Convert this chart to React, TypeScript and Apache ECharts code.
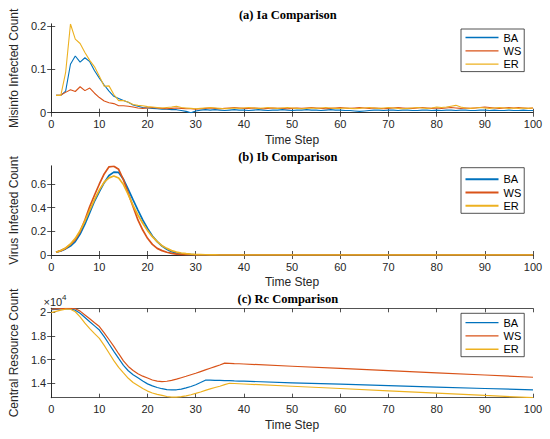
import React, { useEffect, useRef } from "react";
import * as echarts from "echarts";

// ---------- data ----------
const SERIES_NAMES = ["BA", "WS", "ER"];
const COLORS = ["#0072BD", "#D95319", "#EDB120"];

// (a) Ia comparison, time steps 1..100
const STEPS_A = Array.from({ length: 100 }, (_, i) => i + 1);
const BA_A = [
  0.040, 0.040, 0.050, 0.112, 0.131, 0.117, 0.127, 0.118, 0.097, 0.080,
  0.064, 0.050, 0.038, 0.033, 0.028, 0.024, 0.018, 0.015, 0.012, 0.011,
  0.010, 0.009, 0.008, 0.008, 0.007, 0.007, 0.005, 0.003, 0.000, 0.004,
  0.006, 0.007, 0.006, 0.007, 0.006, 0.005, 0.006, 0.007, 0.006, 0.006,
  0.005, 0.006, 0.007, 0.006, 0.005, 0.006, 0.006, 0.007, 0.006, 0.005,
  0.006, 0.006, 0.007, 0.006, 0.006, 0.005, 0.006, 0.007, 0.006, 0.006,
  0.005, 0.005, 0.004, 0.003, 0.004, 0.005, 0.006, 0.006, 0.005, 0.006,
  0.006, 0.005, 0.006, 0.006, 0.005, 0.005, 0.006, 0.006, 0.005, 0.006,
  0.005, 0.006, 0.006, 0.005, 0.006, 0.006, 0.005, 0.005, 0.006, 0.006,
  0.005, 0.006, 0.005, 0.005, 0.006, 0.005, 0.005, 0.006, 0.005, 0.005,
];
const WS_A = [
  0.040, 0.041, 0.047, 0.053, 0.049, 0.060, 0.051, 0.057, 0.045, 0.035,
  0.027, 0.023, 0.021, 0.016, 0.016, 0.015, 0.013, 0.011, 0.010, 0.011,
  0.012, 0.011, 0.010, 0.009, 0.010, 0.011, 0.010, 0.009, 0.009, 0.008,
  0.009, 0.010, 0.011, 0.010, 0.009, 0.010, 0.011, 0.012, 0.011, 0.010,
  0.010, 0.011, 0.010, 0.009, 0.010, 0.011, 0.010, 0.010, 0.009, 0.010,
  0.011, 0.010, 0.011, 0.012, 0.011, 0.010, 0.009, 0.010, 0.011, 0.012,
  0.011, 0.010, 0.011, 0.012, 0.011, 0.010, 0.011, 0.010, 0.009, 0.010,
  0.011, 0.012, 0.011, 0.010, 0.010, 0.011, 0.012, 0.011, 0.010, 0.011,
  0.010, 0.011, 0.012, 0.011, 0.010, 0.011, 0.010, 0.011, 0.012, 0.013,
  0.012, 0.011, 0.010, 0.011, 0.012, 0.011, 0.012, 0.011, 0.010, 0.011,
];
const ER_A = [
  0.040, 0.040, 0.093, 0.205, 0.170, 0.160, 0.139, 0.121, 0.106, 0.084,
  0.061, 0.062, 0.042, 0.028, 0.028, 0.024, 0.019, 0.017, 0.016, 0.014,
  0.013, 0.012, 0.011, 0.012, 0.013, 0.015, 0.012, 0.011, 0.010, 0.009,
  0.010, 0.011, 0.012, 0.011, 0.010, 0.009, 0.010, 0.011, 0.010, 0.011,
  0.012, 0.011, 0.010, 0.011, 0.012, 0.011, 0.010, 0.011, 0.012, 0.011,
  0.010, 0.009, 0.010, 0.011, 0.010, 0.011, 0.012, 0.011, 0.010, 0.010,
  0.011, 0.010, 0.009, 0.010, 0.011, 0.012, 0.011, 0.010, 0.011, 0.012,
  0.011, 0.010, 0.009, 0.010, 0.011, 0.012, 0.011, 0.010, 0.011, 0.013,
  0.012, 0.013, 0.015, 0.017, 0.013, 0.011, 0.010, 0.011, 0.012, 0.011,
  0.010, 0.011, 0.012, 0.011, 0.010, 0.011, 0.010, 0.011, 0.010, 0.011,
];

// (b) Ib comparison, time steps 1..36 then 100
const STEPS_B = [
  1, 2, 3, 4, 5, 6, 7, 8, 9, 10, 11, 12, 13, 14, 15, 16, 17, 18, 19, 20,
  21, 22, 23, 24, 25, 26, 27, 28, 29, 30, 31, 32, 33, 34, 35, 36, 100,
];
const BA_B = [
  0.023, 0.035, 0.052, 0.076, 0.113, 0.177, 0.260, 0.358, 0.456, 0.535,
  0.611, 0.672, 0.700, 0.698, 0.640, 0.555, 0.465, 0.380, 0.296, 0.225,
  0.160, 0.113, 0.076, 0.048, 0.028, 0.017, 0.010, 0.006, 0.004, 0.002,
  0.001, 0.001, 0.000, 0.000, 0.000, 0.000, 0.000,
];
const WS_B = [
  0.023, 0.037, 0.056, 0.090, 0.130, 0.197, 0.296, 0.410, 0.507, 0.600,
  0.685, 0.745, 0.750, 0.724, 0.634, 0.521, 0.408, 0.296, 0.211, 0.141,
  0.090, 0.056, 0.037, 0.023, 0.014, 0.008, 0.005, 0.003, 0.002, 0.001,
  0.001, 0.000, 0.000, 0.000, 0.000, 0.000, 0.000,
];
const ER_B = [
  0.023, 0.038, 0.060, 0.093, 0.140, 0.205, 0.287, 0.380, 0.470, 0.550,
  0.615, 0.652, 0.668, 0.650, 0.595, 0.510, 0.418, 0.338, 0.268, 0.206,
  0.155, 0.113, 0.079, 0.056, 0.037, 0.025, 0.017, 0.011, 0.007, 0.004,
  0.003, 0.002, 0.001, 0.001, 0.000, 0.000, 0.000,
];

// (c) Rc comparison
const STEPS_C = [
  0, 1, 2, 3, 4, 5, 6, 7, 8, 9, 10, 11, 12, 13, 14, 15, 16, 17, 18, 19, 20,
  21, 22, 23, 24, 25, 26, 27, 28, 29, 30, 31, 32, 33, 34, 35, 36, 37, 38, 39, 40,
  50, 60, 70, 80, 90, 100,
];
const WS_C = [
  20260, 20290, 20320, 20340, 20340, 20300, 20100, 19780, 19450, 19120, 18800,
  18270, 17700, 17120, 16500, 15900, 15420, 15080, 14810, 14600, 14450,
  14280, 14180, 14140, 14170, 14250, 14350, 14470, 14590, 14720, 14850,
  14990, 15130, 15270, 15410, 15550, 15700, 15680, 15660, 15650, 15630,
  15440, 15260, 15070, 14880, 14700, 14510,
];
const BA_C = [
  20220, 20250, 20280, 20300, 20280, 20180, 19920, 19560, 19200, 18850, 18500,
  17950, 17320, 16700, 16100, 15520, 15060, 14720, 14460, 14190, 13950,
  13780, 13640, 13540, 13470, 13440, 13450, 13510, 13610, 13730, 13880,
  14060, 14260, 14260, 14250, 14240, 14230, 14220, 14200, 14190, 14180,
  14040, 13920, 13800, 13680, 13560, 13440,
];
const ER_C = [
  19980, 20080, 20180, 20270, 20260, 20050, 19620, 19080, 18620, 18200, 17800,
  17200, 16560, 15920, 15350, 14880, 14420, 14060, 13810, 13560, 13340,
  13180, 13060, 12970, 12880, 12830, 12830, 12870, 12940, 13030, 13140,
  13260, 13400, 13520, 13640, 13750, 13880, 14000, 13980, 13960, 13940,
  13750, 13560, 13360, 13170, 12970, 12780,
];

const X_TICKS = [0, 10, 20, 30, 40, 50, 60, 70, 80, 90, 100];
const Y_TICKS_A = [0, 0.1, 0.2];
const Y_TICKS_B = [0, 0.2, 0.4, 0.6];
const Y_TICKS_C = [14000, 16000, 18000, 20000];

const TITLES = ["(a) Ia Comparison", "(b) Ib Comparison", "(c) Rc Comparison"];
const Y_NAMES = ["Misinfo Infected Count", "Virus Infected Count", "Central Resource Count"];
const X_NAME = "Time Step";

// ---------- layout ----------
const SANS = "Liberation Sans, Arial, Helvetica, sans-serif";
const SERIF = "Liberation Serif, Times New Roman, serif";
const AXIS_COLOR = "#262626";
const PLOT_LEFT = 42.7;
const PLOT_WIDTH = 490.3;
const GRID_TOPS = [24, 166, 308.3];
const GRID_HEIGHTS = [88.7, 89, 89.4];
const LEGEND_TOPS = [29, 167.7, 313.3];
const LEGEND_PADS = [
  [3, 3, 2, 4.5],
  [6, 3, 2, 4.5],
  [3.8, 3, 2, 4.5],
];
const LINE_WIDTHS = [1.1, 1.7, 1.2];

function buildOption() {
  const yRanges = [
    { min: 0, max: 0.205, ticks: Y_TICKS_A, fmt: (v: number) => String(v) },
    { min: 0, max: 0.752, ticks: Y_TICKS_B, fmt: (v: number) => String(v) },
    { min: 12780, max: 20340, ticks: Y_TICKS_C, fmt: (v: number) => String(v / 10000) },
  ];
  const panels = [
    { steps: STEPS_A, values: [BA_A, WS_A, ER_A] },
    { steps: STEPS_B, values: [BA_B, WS_B, ER_B] },
    { steps: STEPS_C, values: [BA_C, WS_C, ER_C] },
  ];

  const grid: any[] = [];
  const xAxis: any[] = [];
  const yAxis: any[] = [];
  const series: any[] = [];
  const legend: any[] = [];
  const graphic: any[] = [];

  const axisLine = { show: true, lineStyle: { color: AXIS_COLOR, width: 0.8 } };
  const tick = { show: true, inside: true, length: 4, lineStyle: { color: AXIS_COLOR, width: 0.8 } };

  for (let p = 0; p < 3; p++) {
    grid.push({
      left: PLOT_LEFT,
      top: GRID_TOPS[p],
      width: PLOT_WIDTH,
      height: GRID_HEIGHTS[p],
      containLabel: false,
    });
    xAxis.push({
      type: "value",
      gridIndex: p,
      position: "bottom",
      min: 0,
      max: 100,
      interval: 10,
      axisLine,
      axisTick: tick,
      splitLine: { show: false },
      axisLabel: { margin: 6, fontSize: 11, fontFamily: SANS, color: AXIS_COLOR },
      name: X_NAME,
      nameLocation: "middle",
      nameGap: 21,
      nameTextStyle: { fontSize: 12, fontFamily: SANS, color: AXIS_COLOR },
    });
    xAxis.push({
      type: "value",
      gridIndex: p,
      position: "top",
      min: 0,
      max: 100,
      interval: 10,
      axisLine,
      axisTick: tick,
      splitLine: { show: false },
      axisLabel: { show: false },
    });
    const yr = yRanges[p];
    yAxis.push({
      type: "value",
      gridIndex: p,
      position: "left",
      min: yr.min,
      max: yr.max,
      axisLine,
      axisTick: { ...tick, customValues: yr.ticks },
      splitLine: { show: false },
      axisLabel: {
        customValues: yr.ticks,
        formatter: yr.fmt,
        margin: 5,
        fontSize: 11,
        fontFamily: SANS,
        color: AXIS_COLOR,
      },
      name: Y_NAMES[p],
      nameLocation: "middle",
      nameGap: 24,
      nameTextStyle: { fontSize: 12, fontFamily: SANS, color: AXIS_COLOR },
    });
    yAxis.push({
      type: "value",
      gridIndex: p,
      position: "right",
      min: yr.min,
      max: yr.max,
      axisLine,
      axisTick: { ...tick, customValues: yr.ticks },
      splitLine: { show: false },
      axisLabel: { show: false },
    });

    const pan = panels[p];
    for (let s = 0; s < 3; s++) {
      series.push({
        type: "line",
        name: SERIES_NAMES[s],
        xAxisIndex: p * 2,
        yAxisIndex: p * 2,
        data: pan.steps.map((t, i) => [t, pan.values[s][i]]),
        symbol: "none",
        showSymbol: false,
        lineStyle: { color: COLORS[s], width: LINE_WIDTHS[p] },
        itemStyle: { color: COLORS[s] },
        clip: true,
        silent: true,
      });
    }

    legend.push({
      left: 461,
      top: LEGEND_TOPS[p],
      orient: "vertical",
      selectedMode: false,
      icon: "rect",
      data: SERIES_NAMES.map((n, s) => ({
        name: n,
        icon: "rect",
        itemStyle: { color: COLORS[s], borderWidth: 0 },
      })),
      itemWidth: 33,
      itemHeight: LINE_WIDTHS[p] + 0.2,
      itemGap: 2.3,
      padding: LEGEND_PADS[p],
      borderColor: AXIS_COLOR,
      borderWidth: 0.8,
      borderRadius: 0,
      backgroundColor: "#ffffff",
      textStyle: { fontSize: 11, fontFamily: SANS, color: "#000000", padding: [0, 0, 0, 0] },
    });

    graphic.push({
      type: "text",
      x: PLOT_LEFT + PLOT_WIDTH / 2,
      y: GRID_TOPS[p] - 9.5,
      style: {
        text: TITLES[p],
        align: "center",
        verticalAlign: "middle",
        fontFamily: SERIF,
        fontWeight: "bold",
        fontSize: 12.5,
        fill: "#000000",
      },
      silent: true,
    });
  }

  graphic.push({
    type: "text",
    x: 43.5,
    y: GRID_TOPS[2] - 6.5,
    style: {
      text: "×10",
      align: "left",
      verticalAlign: "middle",
      fontFamily: SANS,
      fontSize: 11,
      fill: AXIS_COLOR,
    },
    silent: true,
  });
  graphic.push({
    type: "text",
    x: 62,
    y: GRID_TOPS[2] - 10.5,
    style: {
      text: "4",
      align: "left",
      verticalAlign: "middle",
      fontFamily: SANS,
      fontSize: 8,
      fill: AXIS_COLOR,
    },
    silent: true,
  });

  return {
    animation: false,
    backgroundColor: "#ffffff",
    grid,
    xAxis,
    yAxis,
    series,
    legend,
    graphic,
  };
}

export default function App() {
  const ref = useRef<HTMLDivElement | null>(null);
  useEffect(() => {
    if (!ref.current) return;
    const chart = echarts.init(ref.current, undefined, { renderer: "svg", width: 550, height: 439 });
    chart.setOption(buildOption() as any);
    return () => {
      chart.dispose();
    };
  }, []);
  return (
    <div
      ref={ref}
      style={{ position: "absolute", left: 0, top: 0, width: 550, height: 439, background: "#fff" }}
    />
  );
}
